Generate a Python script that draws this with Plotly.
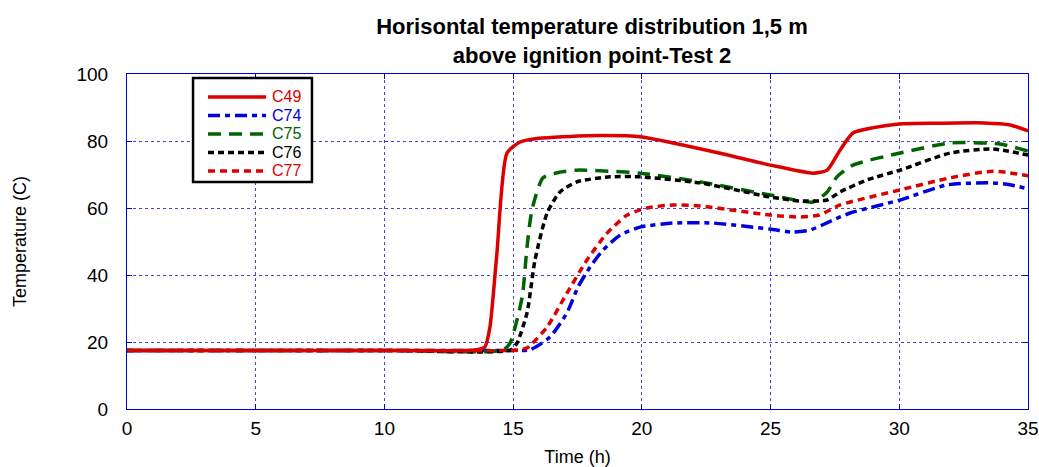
import plotly.graph_objects as go

# ---- data ----
c49_t = [0, 5, 10, 13.5, 13.9, 14.1, 14.37, 14.76, 15.27, 16, 17.9, 20, 23, 25, 26.65, 27.2, 27.7, 28.2, 29, 30, 31.5, 33.3, 34.3, 35]
c49_v = [17.5, 17.5, 17.5, 17.6, 18.5, 24.5, 46.5, 76.4, 79.7, 80.8, 81.6, 81.2, 76.4, 72.8, 70.4, 71.3, 77.3, 82.4, 84, 85.1, 85.3, 85.4, 84.8, 83]

c74_t = [0, 5, 10, 15, 15.66, 16.43, 17.09, 17.52, 17.99, 18.5, 19.15, 19.93, 21.2, 22.77, 24.98, 25.87, 26.53, 27.43, 28.09, 30.03, 31.86, 33.64, 34.4, 35]
c74_v = [17.5, 17.5, 17.5, 17.5, 17.7, 21.5, 28.7, 36.4, 42.4, 47.5, 51.9, 54.3, 55.5, 55.5, 53.7, 52.8, 53.4, 56.4, 58.5, 62.4, 66.9, 67.5, 66.8, 65.7]

c75_t = [0, 5, 10, 14.6, 14.88, 15.35, 15.54, 15.73, 16.16, 16.82, 17.48, 19.93, 22.26, 24.98, 26.65, 27.2, 27.58, 28.2, 30.03, 31.97, 33.9, 35]
c75_v = [17.5, 17.5, 17.5, 17.6, 19.7, 33.4, 48.4, 59.4, 69, 70.7, 71.3, 70.4, 67.8, 63.9, 61.8, 64.8, 69.3, 72.8, 76.4, 79.4, 79.1, 77]

c76_t = [0, 5, 10, 14.9, 15.15, 15.54, 15.85, 16.32, 16.82, 17.48, 18.76, 19.93, 22.26, 24.98, 26.15, 27.2, 27.7, 28.75, 30.03, 31.97, 33.64, 35]
c76_v = [17.5, 17.5, 17.5, 17.6, 19.7, 28.7, 44.5, 58.5, 64.8, 67.8, 69.3, 69.3, 67.5, 63.3, 62.1, 62.4, 64.8, 68.4, 71.3, 76.4, 77.6, 75.8]

c77_t = [0, 5, 10, 15.2, 15.54, 16.32, 17.09, 17.87, 18.65, 19.43, 20.2, 21.2, 22.26, 24.98, 26.15, 26.9, 27.7, 30.03, 31.97, 33.64, 35]
c77_v = [17.5, 17.5, 17.5, 17.6, 18.2, 24.5, 34.6, 44.5, 52.5, 57.9, 60, 60.9, 60.6, 57.9, 57.3, 57.9, 60.9, 65.4, 69, 71, 69.6]

x_ticks = [0, 5, 10, 15, 20, 25, 30, 35]
y_ticks = [0, 20, 40, 60, 80, 100]
legend_names = ["C49", "C74", "C75", "C76", "C77"]

FONT = "Liberation Sans, Arial, sans-serif"

style = {
    "C49": ("#dd0000", "solid"),
    "C74": ("#0000dd", "12px,5px,5px,5px"),
    "C75": ("#006400", "13px,8px"),
    "C76": ("#000000", "6px,4px"),
    "C77": ("#dd0000", "7px,5px"),
}
data = {
    "C49": (c49_t, c49_v),
    "C74": (c74_t, c74_v),
    "C75": (c75_t, c75_v),
    "C76": (c76_t, c76_v),
    "C77": (c77_t, c77_v),
}
draw_order = ["C74", "C75", "C76", "C77", "C49"]

fig = go.Figure()
for name in draw_order:
    col, dash = style[name]
    t, v = data[name]
    fig.add_trace(go.Scatter(
        x=t, y=v, mode="lines", name=name, showlegend=False,
        line=dict(color=col, width=3.5, dash=dash, shape="spline", smoothing=0.6),
    ))

# ---- legend box (drawn in paper coordinates) ----
shapes = [dict(type="rect", xref="paper", yref="paper",
               x0=0.0733, x1=0.2053, y0=0.6776, y1=0.988,
               line=dict(color="#000", width=2.5), fillcolor="white", layer="above")]
annotations = []
entry_y = [0.9316, 0.8764, 0.8212, 0.7660, 0.7108]
for name, yy in zip(legend_names, entry_y):
    col, dash = style[name]
    shapes.append(dict(type="line", xref="paper", yref="paper",
                       x0=0.0899, x1=0.1543, y0=yy, y1=yy,
                       line=dict(color=col, width=3.5, dash=dash), layer="above"))
    annotations.append(dict(xref="paper", yref="paper", x=0.1598, y=yy,
                            xanchor="left", yanchor="middle", text=name, showarrow=False,
                            borderpad=0,
                            font=dict(size=16, family=FONT, color=col)))

annotations.append(dict(
    x=27.75, y=101, xref="x", yref="y", xanchor="left", yanchor="top",
    text="<b>31:30-Start<br>extinguishment</b>", showarrow=False, align="left",
    font=dict(size=19, family=FONT, color="#000"),
))

axis_common = dict(
    showline=True, linecolor="#0000cc", linewidth=1, mirror="ticks",
    showgrid=True, gridcolor="#4444dd", griddash="dot", gridwidth=1,
    ticks="inside", ticklen=5, tickcolor="#0000cc",
    zeroline=False, automargin=False,
    tickfont=dict(family=FONT, size=19, color="#000"),
)

fig.update_layout(
    width=1039, height=467,
    margin=dict(l=127, r=11, t=74, b=58),
    paper_bgcolor="white", plot_bgcolor="white",
    font=dict(family=FONT, color="#000"),
    title=dict(
        text="<b>Horisontal temperature distribution 1,5 m<br>above ignition point-Test 2</b>",
        x=592 / 1039, xanchor="center", yref="container", y=0.927, yanchor="top",
        font=dict(size=22, family=FONT, color="#000"),
    ),
    xaxis=dict(range=[0, 35], tickvals=x_ticks, ticklabelstandoff=2,
               title=dict(text="Time (h)", font=dict(size=18), standoff=12), **axis_common),
    yaxis=dict(range=[0, 100], tickvals=y_ticks, ticklabelstandoff=14,
               title=dict(text="Temperature (C)", font=dict(size=18), standoff=45), **axis_common),
    showlegend=False,
    shapes=shapes,
    annotations=annotations,
)

fig.write_html("out.html")
